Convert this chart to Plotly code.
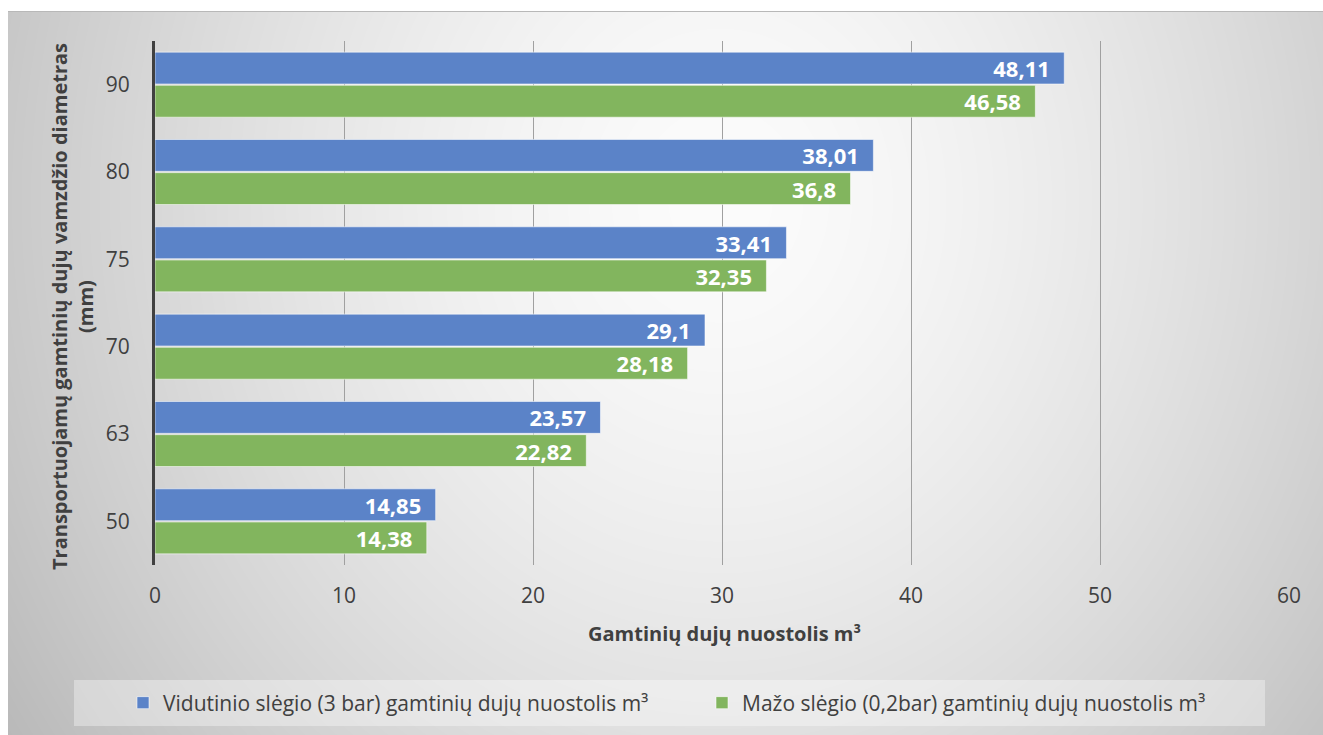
import base64, struct, zlib
import numpy as np
import plotly.graph_objects as go

# ---------------- data ----------------
categories = ["50", "63", "70", "75", "80", "90"]
medium_pressure = [14.85, 23.57, 29.1, 33.41, 38.01, 48.11]
low_pressure = [14.38, 22.82, 28.18, 32.35, 36.8, 46.58]
x_ticks = [0, 10, 20, 30, 40, 50, 60]
name_medium = "Vidutinio slėgio (3 bar) gamtinių dujų nuostolis m³"
name_low = "Mažo slėgio (0,2bar) gamtinių dujų nuostolis m³"
x_title = "Gamtinių dujų nuostolis m³"
y_title = "Transportuojamų gamtinių dujų vamzdžio diametras<br>(mm)"

W, H = 1323, 735
L, R, T, B = 155, 34, 41, 170
PW, PH = W - L - R, H - T - B

def px_x(p):
    return (p - L) / PW

def px_y(p):
    return (H - B - p) / PH

# ---------------- background gradient (PNG data URI) ----------------
bx0, by0 = 8, 11
bw, bh = W - bx0, H - by0
yy, xx = np.mgrid[0:bh, 0:bw].astype(float)
xx += bx0
yy += by0
r = np.sqrt(((xx - 720) / 800.0) ** 2 + ((yy - 200) / 900.0) ** 2)
val = 252 - 60 * np.clip(r, 0, 1.25) ** 1.5
arr = np.clip(val, 0, 255).astype(np.uint8)

def png_gray(a):
    h, w = a.shape
    raw = b"".join(b"\x00" + a[i].tobytes() for i in range(h))
    def chunk(t, d):
        c = struct.pack(">I", len(d)) + t + d
        return c + struct.pack(">I", zlib.crc32(t + d) & 0xFFFFFFFF)
    return (b"\x89PNG\r\n\x1a\n" + chunk(b"IHDR", struct.pack(">IIBBBBB", w, h, 8, 0, 0, 0, 0))
            + chunk(b"IDAT", zlib.compress(raw, 9)) + chunk(b"IEND", b""))

bg_uri = "data:image/png;base64," + base64.b64encode(png_gray(arr)).decode()

FONT = "Open Sans"
TXT = "#404040"

def lab(v):
    return str(v).replace(".", ",") + "\u00a0\u00a0"

fig = go.Figure()
fig.add_trace(go.Bar(
    y=categories, x=low_pressure, name=name_low, orientation="h", legend="legend2",
    marker=dict(color="#82B55E", line=dict(color="rgba(255,255,255,0.55)", width=1)),
    text=[lab(v) for v in low_pressure], textposition="inside", insidetextanchor="end",
    textfont=dict(family=FONT, size=22, color="white", weight="bold"),
    constraintext="none", hoverinfo="x+name",
))
fig.add_trace(go.Bar(
    y=categories, x=medium_pressure, name=name_medium, orientation="h", legend="legend",
    marker=dict(color="#5B83C8", line=dict(color="rgba(255,255,255,0.55)", width=1)),
    text=[lab(v) for v in medium_pressure], textposition="inside", insidetextanchor="end",
    textfont=dict(family=FONT, size=22, color="white", weight="bold"),
    constraintext="none", hoverinfo="x+name",
))

leg_common = dict(orientation="h", yanchor="middle", y=px_y(703), xanchor="left",
                  bgcolor="rgba(0,0,0,0)", font=dict(family=FONT, size=21, color=TXT),
                  itemwidth=30)

fig.update_layout(
    width=W, height=H,
    margin=dict(l=L, r=R, t=T, b=B, pad=0, autoexpand=False),
    paper_bgcolor="white", plot_bgcolor="rgba(0,0,0,0)",
    barmode="group", bargap=0.24, bargroupgap=0.04,
    font=dict(family=FONT, size=20, color=TXT),
    showlegend=True,
    legend=dict(x=px_x(123), **leg_common),
    legend2=dict(x=px_x(702), **leg_common),
    xaxis=dict(range=[0, 60], tickvals=x_ticks, showgrid=True, gridcolor="#a0a0a0", gridwidth=1,
               zeroline=False, showline=False, ticks="", ticklabelstandoff=16,
               tickfont=dict(family=FONT, size=21, color=TXT)),
    yaxis=dict(type="category", categoryorder="array", categoryarray=categories,
               showgrid=False, zeroline=False, showline=True, linecolor="#404040", linewidth=3,
               ticks="", ticklabelstandoff=18,
               tickfont=dict(family=FONT, size=21, color=TXT)),
    images=[dict(source=bg_uri, xref="paper", yref="paper", x=px_x(bx0), y=px_y(by0),
                 sizex=bw / PW, sizey=bh / PH, sizing="stretch", xanchor="left", yanchor="top",
                 layer="below")],
    shapes=[
        dict(type="rect", xref="paper", yref="paper", x0=px_x(74), x1=px_x(1265),
             y0=px_y(726), y1=px_y(680), fillcolor="rgba(255,255,255,0.35)",
             line=dict(width=0), layer="below"),
        dict(type="line", xref="paper", yref="paper", x0=px_x(bx0), x1=px_x(W),
             y0=px_y(11.5), y1=px_y(11.5), line=dict(color="#b8b8b8", width=1), layer="below"),
    ],
    annotations=[
        dict(text=x_title, xref="paper", yref="paper", x=px_x(724), y=px_y(633),
             xanchor="center", yanchor="middle", showarrow=False,
             font=dict(family=FONT, size=20, color=TXT, weight="bold")),
        dict(text=y_title, xref="paper", yref="paper", x=px_x(72), y=px_y(307),
             xanchor="center", yanchor="middle", showarrow=False, textangle=-90,
             font=dict(family=FONT, size=20, color=TXT, weight="bold")),
    ],
)

fig.write_html("out.html")
